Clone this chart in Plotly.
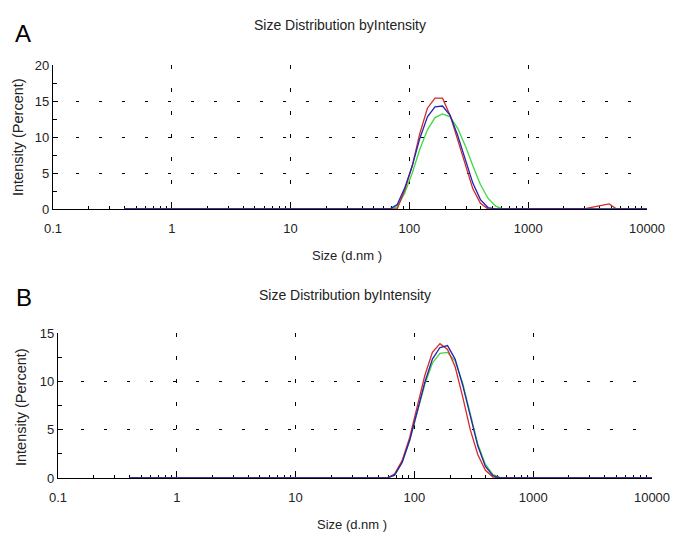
import plotly.graph_objects as go

# Malvern size classes (d.nm)
sizes = [0.4, 0.4632, 0.5365, 0.6213, 0.7195, 0.8332, 0.9649, 1.117, 1.294, 1.499,
         1.736, 2.01, 2.328, 2.696, 3.122, 3.615, 4.187, 4.849, 5.615, 6.503,
         7.531, 8.721, 10.1, 11.7, 13.54, 15.69, 18.17, 21.04, 24.36, 28.21,
         32.67, 37.84, 43.82, 50.75, 58.77, 68.06, 78.82, 91.28, 105.7, 122.4,
         141.8, 164.2, 190.1, 220.2, 255.0, 295.3, 342.0, 396.1, 458.7, 531.2,
         615.1, 712.4, 825.0, 955.4, 1106, 1281, 1484, 1718, 1990, 2305,
         2669, 3091, 3580, 4145, 4801, 5560, 6439, 7456, 8635, 10000]

zeros34 = [0.0] * 34

# Panel A (from sizes index 34 = 58.77 nm onwards)
a_red = zeros34 + [0.0, 0.0, 0.0, 2.6, 6.0, 10.5, 14.0, 15.4, 15.4, 13.0,
                   9.5, 6.0, 2.8, 0.8, 0.0, 0.0, 0.0, 0.0, 0.0, 0.0,
                   0.0, 0.0, 0.0, 0.0, 0.0, 0.0, 0.0, 0.1, 0.3, 0.5,
                   0.7, 0.0, 0.0, 0.0, 0.0, 0.0]
a_blue = zeros34 + [0.0, 0.0, 0.6, 2.9, 6.0, 9.8, 12.8, 14.2, 14.3, 13.0,
                    10.2, 6.8, 3.6, 1.3, 0.2, 0.0, 0.0, 0.0, 0.0, 0.0,
                    0.0, 0.0, 0.0, 0.0, 0.0, 0.0, 0.0, 0.0, 0.0, 0.0,
                    0.0, 0.0, 0.0, 0.0, 0.0, 0.0]
a_green = zeros34 + [0.0, 0.0, 0.3, 2.2, 5.0, 8.3, 11.0, 12.7, 13.2, 12.8,
                     11.2, 8.8, 6.0, 3.4, 1.5, 0.4, 0.0, 0.0, 0.0, 0.0,
                     0.0, 0.0, 0.0, 0.0, 0.0, 0.0, 0.0, 0.0, 0.0, 0.0,
                     0.0, 0.0, 0.0, 0.0, 0.0, 0.0]

# Panel B
b_red = zeros34 + [0.0, 0.4, 1.8, 4.2, 7.4, 10.6, 13.0, 13.9, 13.3, 11.5,
                   8.4, 5.0, 2.4, 0.8, 0.1, 0.0, 0.0, 0.0, 0.0, 0.0,
                   0.0, 0.0, 0.0, 0.0, 0.0, 0.0, 0.0, 0.0, 0.0, 0.0,
                   0.0, 0.0, 0.0, 0.0, 0.0, 0.0]
b_blue = zeros34 + [0.0, 0.3, 1.6, 3.9, 6.9, 9.9, 12.3, 13.5, 13.7, 12.3,
                    9.6, 6.3, 3.3, 1.2, 0.25, 0.0, 0.0, 0.0, 0.0, 0.0,
                    0.0, 0.0, 0.0, 0.0, 0.0, 0.0, 0.0, 0.0, 0.0, 0.0,
                    0.0, 0.0, 0.0, 0.0, 0.0, 0.0]
b_green = zeros34 + [0.0, 0.3, 1.6, 3.9, 6.8, 9.7, 11.9, 12.9, 13.0, 12.1,
                     9.8, 6.6, 3.5, 1.4, 0.35, 0.03, 0.0, 0.0, 0.0, 0.0,
                     0.0, 0.0, 0.0, 0.0, 0.0, 0.0, 0.0, 0.0, 0.0, 0.0,
                     0.0, 0.0, 0.0, 0.0, 0.0, 0.0]

x_ticks = [0.1, 1, 10, 100, 1000, 10000]
x_tick_text = ["0.1", "1", "10", "100", "1000", "10000"]
title_text = "Size Distribution byIntensity"
x_title = "Size (d.nm )"
y_title = "Intensity (Percent)"

GREEN = "#3cd83c"
RED = "#d42a2a"
BLUE = "#2424b4"
FONT = "Liberation Sans, Arial"

fig = go.Figure()
for ys, col, ax in [(a_green, GREEN, "1"), (a_red, RED, "1"), (a_blue, BLUE, "1"),
                    (b_green, GREEN, "2"), (b_red, RED, "2"), (b_blue, BLUE, "2")]:
    fig.add_trace(go.Scatter(x=sizes, y=ys, mode="lines",
                             line=dict(color=col, width=1.3),
                             xaxis="x" if ax == "1" else "x2",
                             yaxis="y" if ax == "1" else "y2",
                             showlegend=False, hoverinfo="skip"))

W, H = 693, 550

def px(v):
    return v / W

def py(v):
    return 1 - v / H

common_x = dict(type="log", range=[-1, 4], tickvals=x_ticks, ticktext=x_tick_text,
                showline=True, linecolor="black", linewidth=1, layer="below traces",
                showgrid=True, gridcolor="black", griddash="4px,19px", gridwidth=1,
                ticks="inside", ticklen=7, tickcolor="black", tickwidth=1,
                ticklabelstandoff=7,
                minor=dict(dtick="D1", ticks="inside", ticklen=3, tickcolor="black",
                           showgrid=False),
                tickfont=dict(family=FONT, size=13, color="#222"), zeroline=False)
common_y = dict(showline=True, linecolor="black", linewidth=1.2, layer="below traces",
                showgrid=True, gridcolor="black", griddash="3px,20px", gridwidth=1,
                ticks="inside", ticklen=5, tickcolor="black", tickwidth=1,
                tickfont=dict(family=FONT, size=13, color="#222"), zeroline=False)

fig.update_layout(
    width=W, height=H, margin=dict(l=0, r=0, t=0, b=0, autoexpand=False),
    paper_bgcolor="white", plot_bgcolor="white",
    xaxis=dict(domain=[px(53), px(647)], anchor="y", **common_x),
    yaxis=dict(domain=[py(209), py(65)], anchor="x", range=[0, 20], dtick=5,
               minor=dict(dtick=2.5, ticks="inside", ticklen=4, tickcolor="black", showgrid=False),
               **common_y),
    xaxis2=dict(domain=[px(58), px(652)], anchor="y2", **common_x),
    yaxis2=dict(domain=[py(478), py(333)], anchor="x2", range=[0, 15], dtick=5,
                minor=dict(dtick=2.5, ticks="inside", ticklen=4, tickcolor="black", showgrid=False),
                **common_y),
)

ann = []
for (tx, ty, xt_x, xt_y, yt_x, yt_y, letter, lx, ly) in [
        (340, 25, 347, 255, 18, 137, "A", 23, 33),
        (345, 295, 352, 524, 21, 407, "B", 24, 297)]:
    base = dict(xref="paper", yref="paper", showarrow=False,
                xanchor="center", yanchor="middle")
    ann.append(dict(text=title_text, x=px(tx), y=py(ty),
                    font=dict(family=FONT, size=14, color="#222"), **base))
    ann.append(dict(text=x_title, x=px(xt_x), y=py(xt_y),
                    font=dict(family=FONT, size=13, color="#222"), **base))
    ann.append(dict(text=y_title, x=px(yt_x), y=py(yt_y), textangle=-90,
                    font=dict(family=FONT, size=14.5, color="#222"), **base))
    ann.append(dict(text=letter, x=px(lx), y=py(ly),
                    font=dict(family=FONT, size=24, color="black"), **base))
fig.update_layout(annotations=ann)

fig.write_html("out.html", config={"displayModeBar": False},
               post_script="document.body.style.margin='0px';document.body.style.overflow='hidden';")
